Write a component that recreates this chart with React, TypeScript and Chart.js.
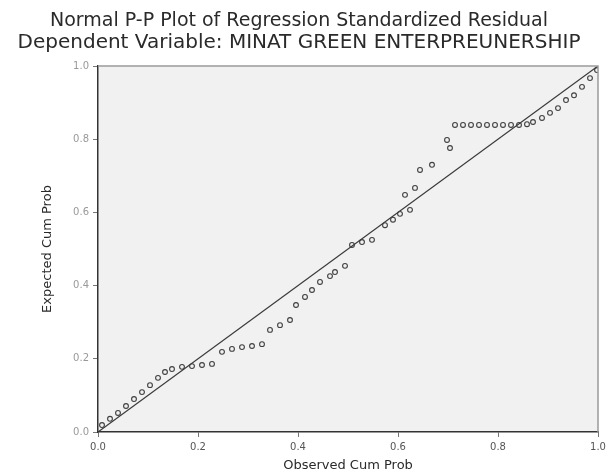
import React, { useEffect, useRef } from "react";
import { Chart, registerables } from "chart.js";

Chart.register(...registerables);

const titleText = "Normal P-P Plot of Regression Standardized Residual";
const subtitleText = "Dependent Variable: MINAT GREEN ENTERPREUNERSHIP";
const xAxisTitle = "Observed Cum Prob";
const yAxisTitle = "Expected Cum Prob";
const tickValues = [0, 0.2, 0.4, 0.6, 0.8, 1.0];

const observedCumProb = [
  0.008, 0.024, 0.04, 0.056, 0.072, 0.088, 0.104, 0.12, 0.134,
  0.148, 0.168, 0.188, 0.208, 0.228,
  0.248, 0.268, 0.288, 0.308, 0.328,
  0.344, 0.364, 0.384,
  0.396, 0.414, 0.428,
  0.444, 0.464,
  0.474, 0.494,
  0.508, 0.528, 0.548,
  0.574, 0.59,
  0.604, 0.624,
  0.614, 0.634,
  0.644, 0.668,
  0.698, 0.704,
  0.714, 0.73, 0.746, 0.762, 0.778, 0.794, 0.81, 0.826, 0.842, 0.858,
  0.87, 0.888, 0.904, 0.92, 0.936, 0.952, 0.968, 0.984, 0.998,
];

const expectedCumProb = [
  0.019, 0.036, 0.052, 0.071, 0.09, 0.109, 0.128, 0.148, 0.164,
  0.172, 0.178, 0.18, 0.183, 0.186,
  0.219, 0.227, 0.232, 0.235, 0.24,
  0.279, 0.292, 0.306,
  0.347, 0.369, 0.388,
  0.41, 0.426,
  0.437, 0.454,
  0.511, 0.519, 0.525,
  0.565, 0.58,
  0.596, 0.607,
  0.648, 0.667,
  0.716, 0.73,
  0.798, 0.776,
  0.839, 0.839, 0.839, 0.839, 0.839, 0.839, 0.839, 0.839, 0.839, 0.841,
  0.847, 0.858, 0.872, 0.885, 0.907, 0.92, 0.943, 0.967, 0.989,
];

const diagonal = [
  { x: 0, y: 0 },
  { x: 1, y: 1 },
];

const framePlugin = {
  id: "frame",
  beforeDraw(chart: any) {
    const { ctx, chartArea } = chart;
    const { left, top, right, bottom } = chartArea;
    ctx.save();
    ctx.fillStyle = "#ffffff";
    ctx.fillRect(0, 0, chart.width, chart.height);
    ctx.fillStyle = "#f1f1f1";
    ctx.fillRect(left, top, right - left, bottom - top);
    ctx.restore();
  },
  afterDatasetsDraw(chart: any) {
    const { ctx, chartArea } = chart;
    const { left, top, right, bottom } = chartArea;
    ctx.save();
    ctx.strokeStyle = "#9a9a9a";
    ctx.lineWidth = 1.5;
    ctx.beginPath();
    ctx.moveTo(left, top);
    ctx.lineTo(right, top);
    ctx.lineTo(right, bottom);
    ctx.stroke();
    ctx.restore();
  },
};

export default function App() {
  const ref = useRef<HTMLCanvasElement | null>(null);

  useEffect(() => {
    if (!ref.current) return;
    const points = observedCumProb.map((x, i) => ({ x, y: expectedCumProb[i] }));
    const chart = new Chart(ref.current, {
      type: "scatter",
      data: {
        datasets: [
          {
            type: "line",
            data: diagonal,
            borderColor: "#3a3a3a",
            borderWidth: 1.2,
            pointRadius: 0,
            fill: false,
            order: 2,
          } as any,
          {
            data: points,
            pointRadius: 2.4,
            pointBorderWidth: 1.1,
            pointBorderColor: "#3f3f3f",
            pointBackgroundColor: "rgba(0,0,0,0)",
            order: 1,
          },
        ],
      },
      options: {
        animation: false,
        responsive: false,
        maintainAspectRatio: false,
        layout: { padding: { left: 0, right: 12, top: 0, bottom: 0 } },
        plugins: {
          legend: { display: false },
          tooltip: { enabled: false },
          title: {
            display: true,
            text: titleText,
            color: "#2a2a2a",
            font: { family: "'DejaVu Sans', sans-serif", size: 19, weight: "normal", lineHeight: 1 },
            padding: { top: 12, bottom: 2 },
          },
          subtitle: {
            display: true,
            text: subtitleText,
            color: "#2a2a2a",
            font: { family: "'DejaVu Sans', sans-serif", size: 20, weight: "normal", lineHeight: 1 },
            padding: { top: 0, bottom: 13 },
          },
        },
        scales: {
          x: {
            type: "linear",
            min: 0,
            max: 1,
            afterBuildTicks: (s: any) => {
              s.ticks = tickValues.map((v) => ({ value: v }));
            },
            afterFit: (s: any) => {
              s.height = 43;
            },
            ticks: {
              color: "#555",
              font: { family: "'DejaVu Sans', sans-serif", size: 10 },
              padding: 4,
              callback: (v: any) => Number(v).toFixed(1),
            },
            grid: { display: true, drawOnChartArea: false, tickLength: 5, color: "#777" },
            border: { display: true, color: "#333", width: 1.5 },
            title: {
              display: true,
              text: xAxisTitle,
              color: "#2a2a2a",
              font: { family: "'DejaVu Sans', sans-serif", size: 13 },
              padding: { top: 0, bottom: 2 },
            },
          },
          y: {
            type: "linear",
            min: 0,
            max: 1,
            afterBuildTicks: (s: any) => {
              s.ticks = tickValues.map((v) => ({ value: v }));
            },
            afterFit: (s: any) => {
              s.width = 98;
            },
            ticks: {
              color: "#999",
              font: { family: "'DejaVu Sans', sans-serif", size: 10 },
              padding: 4,
              callback: (v: any) => Number(v).toFixed(1),
            },
            grid: { display: true, drawOnChartArea: false, tickLength: 5, color: "#777" },
            border: { display: true, color: "#333", width: 1.5 },
            title: {
              display: true,
              text: yAxisTitle,
              color: "#2a2a2a",
              font: { family: "'DejaVu Sans', sans-serif", size: 13 },
              padding: { top: 40, bottom: 0 },
            },
          },
        },
      },
      plugins: [framePlugin],
    });
    return () => chart.destroy();
  }, []);

  return (
    <div style={{ position: "fixed", left: 0, top: 0, width: 610, height: 475, background: "#fff" }}>
      <canvas ref={ref} width={610} height={475} style={{ width: 610, height: 475 }} />
    </div>
  );
}
